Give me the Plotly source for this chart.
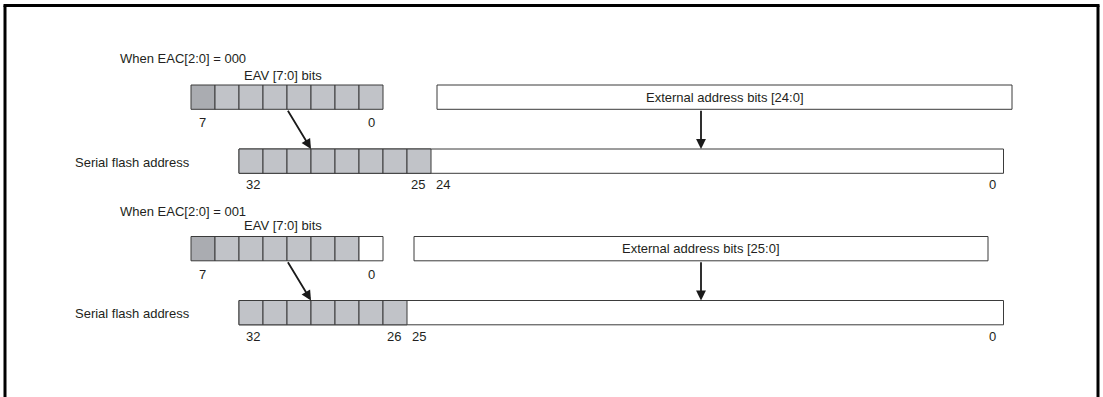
import plotly.graph_objects as go

# ---------------- data ----------------
section_titles = ["When EAC[2:0] = 000", "When EAC[2:0] = 001"]
eav_labels = ["EAV [7:0] bits", "EAV [7:0] bits"]
eav_bits = [7, 6, 5, 4, 3, 2, 1, 0]
eav_gray_count = [8, 7]          # shaded EAV bits per section
serial_gray_count = [8, 7]       # shaded serial address bits per section
ext_labels = ["External address bits [24:0]", "External address bits [25:0]"]
eav_end_labels = ["7", "0"]
serial_msb_label = ["32", "32"]
serial_split_labels = [["25", "24"], ["26", "25"]]
serial_lsb_label = ["0", "0"]
row_label = "Serial flash address"

# ---------------- layout constants (pixels) ----------------
W, H = 1103, 397
FONT = "Liberation Sans, Arial, Helvetica, sans-serif"
TXT = "#231f20"
EDGE = "#3b3b3b"
DARK = "#aaacb1"
LIGHT = "#c1c3c8"
CELL = 24
EAV_X0 = 191
SER_X0 = 239
SER_X1 = 1003.5
EXT_X = [(437, 1012), (414, 988)]
DY = [0, 151.5]
TITLE_Y = [58, 211]
EAVLBL_Y = [75, 225.5]

fig = go.Figure()
shapes = []
ann = []


def text(x, y, s, anchor="center"):
    ann.append(dict(x=x, y=y, xref="x", yref="y", text=s, showarrow=False,
                    xanchor=anchor, yanchor="middle",
                    font=dict(family=FONT, size=13, color=TXT)))


for k in range(2):
    dy = DY[k]
    ey0, ey1 = 85 + dy, 109.3 + dy
    sy0, sy1 = 149 + dy, 173.3 + dy
    # titles
    text(118, TITLE_Y[k], section_titles[k], "left")
    text(EAV_X0 + 4 * CELL - 4, EAVLBL_Y[k], eav_labels[k])
    # EAV cells
    for i, b in enumerate(eav_bits):
        if i < eav_gray_count[k]:
            fill = DARK if i == 0 else LIGHT
        else:
            fill = "white"
        shapes.append(dict(type="rect", xref="x", yref="y",
                           x0=EAV_X0 + i * CELL, x1=EAV_X0 + (i + 1) * CELL,
                           y0=ey0, y1=ey1, fillcolor=fill,
                           line=dict(color=EDGE, width=1)))
    text(EAV_X0 + 11, 122.7 + dy, eav_end_labels[0])
    text(EAV_X0 + 7 * CELL + 12, 122.7 + dy, eav_end_labels[1])
    # external address box
    ex0, ex1 = EXT_X[k]
    shapes.append(dict(type="rect", xref="x", yref="y", x0=ex0, x1=ex1,
                       y0=ey0, y1=ey1, fillcolor="white",
                       line=dict(color=EDGE, width=1)))
    text((ex0 + ex1) / 2, (ey0 + ey1) / 2, ext_labels[k])
    # serial flash address row
    text(192, 162 + dy, row_label, "right")
    shapes.append(dict(type="rect", xref="x", yref="y", x0=SER_X0, x1=SER_X1,
                       y0=sy0, y1=sy1, fillcolor="white",
                       line=dict(color=EDGE, width=1)))
    n = serial_gray_count[k]
    for i in range(n):
        shapes.append(dict(type="rect", xref="x", yref="y",
                           x0=SER_X0 + i * CELL, x1=SER_X0 + (i + 1) * CELL,
                           y0=sy0, y1=sy1, fillcolor=LIGHT,
                           line=dict(color=EDGE, width=1)))
    split = SER_X0 + n * CELL
    text(253, 184.5 + dy, serial_msb_label[k])
    text(split - 4, 184.5 + dy, serial_split_labels[k][0], "right")
    text(split + 3, 184.5 + dy, serial_split_labels[k][1], "left")
    text(992, 184.5 + dy, serial_lsb_label[k])
    # arrows
    ann.append(dict(x=EAV_X0 + 5 * CELL, y=sy0, ax=EAV_X0 + 4 * CELL, ay=ey1,
                    xref="x", yref="y", axref="x", ayref="y", text="",
                    showarrow=True, arrowhead=2, arrowsize=1.1, arrowwidth=1.8,
                    arrowcolor="#1a1a1a", standoff=0, startstandoff=0))
    ann.append(dict(x=701, y=sy0, ax=701, ay=ey1,
                    xref="x", yref="y", axref="x", ayref="y", text="",
                    showarrow=True, arrowhead=2, arrowsize=1.1, arrowwidth=1.8,
                    arrowcolor="#1a1a1a", standoff=0, startstandoff=0))

# outer frame (no bottom edge visible)
for (x0, y0, x1, y1) in [(5, 5.5, 5, 400), (3.5, 5.5, 1099.5, 5.5), (1098, 5.5, 1098, 400)]:
    shapes.append(dict(type="line", xref="x", yref="y", x0=x0, y0=y0, x1=x1, y1=y1,
                       line=dict(color="black", width=3)))

fig.update_layout(
    width=W, height=H, margin=dict(l=0, r=0, t=0, b=0),
    paper_bgcolor="white", plot_bgcolor="white",
    xaxis=dict(range=[0, W], visible=False, fixedrange=True),
    yaxis=dict(range=[H, 0], visible=False, fixedrange=True),
    shapes=shapes, annotations=ann, showlegend=False,
)

fig.write_html("out.html", config={"displayModeBar": False},
               post_script="document.body.style.margin='0';document.body.style.overflow='hidden';")
